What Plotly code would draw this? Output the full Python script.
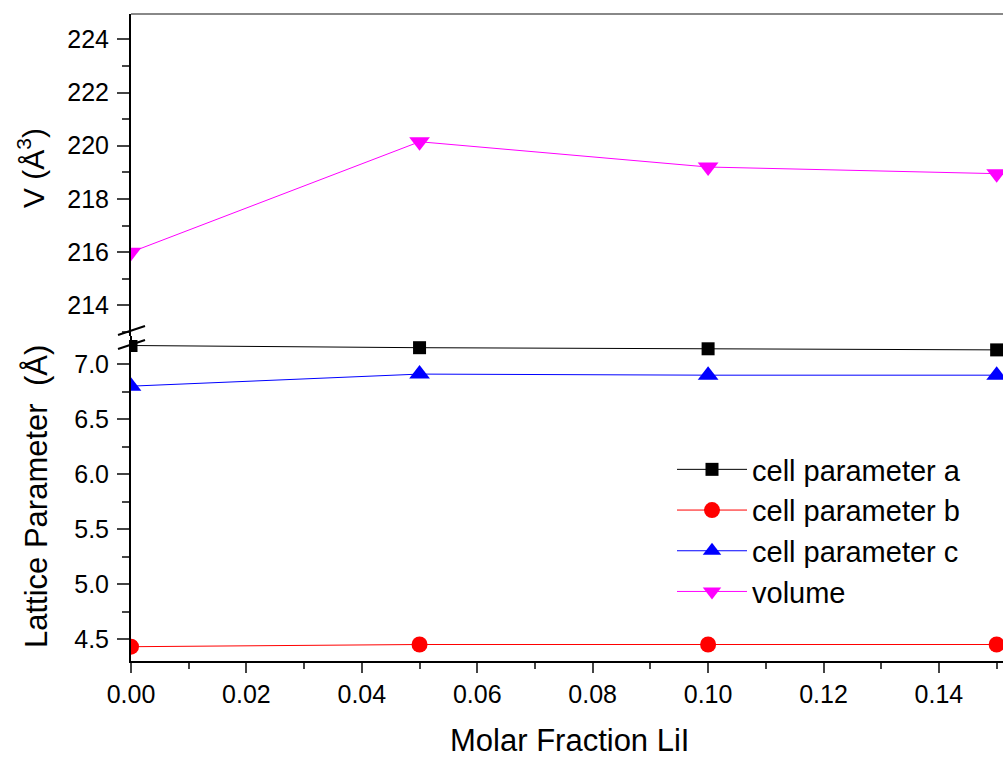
import plotly.graph_objects as go

# ---- data ----
x_frac = [0.00, 0.05, 0.10, 0.15]
cell_a = [7.17, 7.15, 7.14, 7.13]
cell_b = [4.43, 4.45, 4.45, 4.45]
cell_c = [6.80, 6.91, 6.90, 6.90]
volume = [216.0, 220.15, 219.2, 218.95]

x_ticks = [0.00, 0.02, 0.04, 0.06, 0.08, 0.10, 0.12, 0.14]

W, H = 1003, 757
FONT = "Liberation Sans, Arial, sans-serif"

def px_x(p):
    return p / W

def px_y(p):
    return (H - p) / H

x_left = 131
bot_top, bot_bot = 340, 661
top_top, top_bot = 14, 336

fig = go.Figure()

fig.add_trace(go.Scatter(x=x_frac, y=cell_a, name="cell parameter a", mode="lines+markers",
                         line=dict(color="black", width=1),
                         marker=dict(symbol="square", size=13, color="black"),
                         xaxis="x", yaxis="y"))
fig.add_trace(go.Scatter(x=x_frac, y=cell_b, name="cell parameter b", mode="lines+markers",
                         line=dict(color="red", width=1),
                         marker=dict(symbol="circle", size=16, color="red"),
                         xaxis="x", yaxis="y"))
fig.add_trace(go.Scatter(x=x_frac, y=cell_c, name="cell parameter c", mode="lines+markers",
                         line=dict(color="blue", width=1),
                         marker=dict(symbol="triangle-up", size=18, color="blue"),
                         xaxis="x", yaxis="y"))
fig.add_trace(go.Scatter(x=x_frac, y=volume, name="volume", mode="lines+markers",
                         line=dict(color="magenta", width=1),
                         marker=dict(symbol="triangle-down", size=18, color="magenta"),
                         xaxis="x2", yaxis="y2"))

xrange = [0, 0.1511]

fig.update_layout(
    width=W, height=H,
    margin=dict(l=0, r=0, t=0, b=0, autoexpand=False),
    paper_bgcolor="white", plot_bgcolor="white",
    font=dict(family=FONT, size=25, color="black"),
    showlegend=True,
    legend=dict(x=px_x(672), y=px_y(444), xanchor="left", yanchor="top",
                font=dict(size=29, family=FONT), bgcolor="rgba(0,0,0,0)",
                itemwidth=70, tracegroupgap=0),
    xaxis=dict(domain=[px_x(x_left), 1], anchor="y", range=xrange, automargin=False,
               tickvals=x_ticks, tickformat=".2f", ticks="outside", ticklen=10, tickwidth=2,
               minor=dict(dtick=0.01, tick0=0, ticks="outside", ticklen=6, tickwidth=2),
               showline=True, linecolor="black", linewidth=2, showgrid=False, zeroline=False,
               tickfont=dict(size=25)),
    yaxis=dict(domain=[px_y(bot_bot), px_y(bot_top)], anchor="x", range=[4.30, 7.22],
               automargin=False,
               dtick=0.5, tick0=4.5, tickformat=".1f", ticks="outside", ticklen=12, tickwidth=2,
               minor=dict(dtick=0.25, tick0=4.25, ticks="outside", ticklen=7, tickwidth=2),
               showline=True, linecolor="black", linewidth=2, showgrid=False, zeroline=False,
               ticklabelstandoff=3, tickfont=dict(size=25)),
    xaxis2=dict(domain=[px_x(x_left), 1], anchor="y2", range=xrange, matches="x",
                automargin=False,
                showticklabels=False, ticks="", showline=False, showgrid=False, zeroline=False),
    yaxis2=dict(domain=[px_y(top_bot), px_y(top_top)], anchor="x2", range=[212.85, 224.95],
                automargin=False,
                dtick=2, tick0=214, ticks="outside", ticklen=12, tickwidth=2,
                minor=dict(dtick=1, tick0=213, ticks="outside", ticklen=7, tickwidth=2),
                showline=True, linecolor="black", linewidth=2, showgrid=False, zeroline=False,
                ticklabelstandoff=3, tickfont=dict(size=25)),
)

# top frame line and axis continuity / break marks
shapes = [
    dict(type="line", xref="paper", yref="paper", x0=px_x(x_left), x1=1,
         y0=px_y(top_top), y1=px_y(top_top), line=dict(color="#888888", width=2)),
    dict(type="line", xref="paper", yref="paper", x0=px_x(x_left), x1=px_x(x_left),
         y0=px_y(top_bot), y1=px_y(bot_top), line=dict(color="black", width=2)),
    dict(type="line", xref="paper", yref="paper", x0=px_x(118), x1=px_x(145),
         y0=px_y(335), y1=px_y(326), line=dict(color="black", width=2)),
    dict(type="line", xref="paper", yref="paper", x0=px_x(118), x1=px_x(145),
         y0=px_y(349), y1=px_y(340), line=dict(color="black", width=2)),
]
fig.update_layout(shapes=shapes)

annotations = [
    dict(text="V (Å<sup>3</sup>)", xref="paper", yref="paper", x=px_x(31), y=px_y(168),
         textangle=-90, showarrow=False, font=dict(size=30, family=FONT),
         xanchor="center", yanchor="middle"),
    dict(text="Lattice Parameter  (Å)", xref="paper", yref="paper", x=px_x(36), y=px_y(497),
         textangle=-90, showarrow=False, font=dict(size=31, family=FONT),
         xanchor="center", yanchor="middle"),
    dict(text="Molar Fraction LiI", xref="paper", yref="paper", x=px_x(569), y=px_y(740),
         showarrow=False, font=dict(size=31, family=FONT),
         xanchor="center", yanchor="middle"),
]
fig.update_layout(annotations=annotations)

fig.write_html("out.html")
